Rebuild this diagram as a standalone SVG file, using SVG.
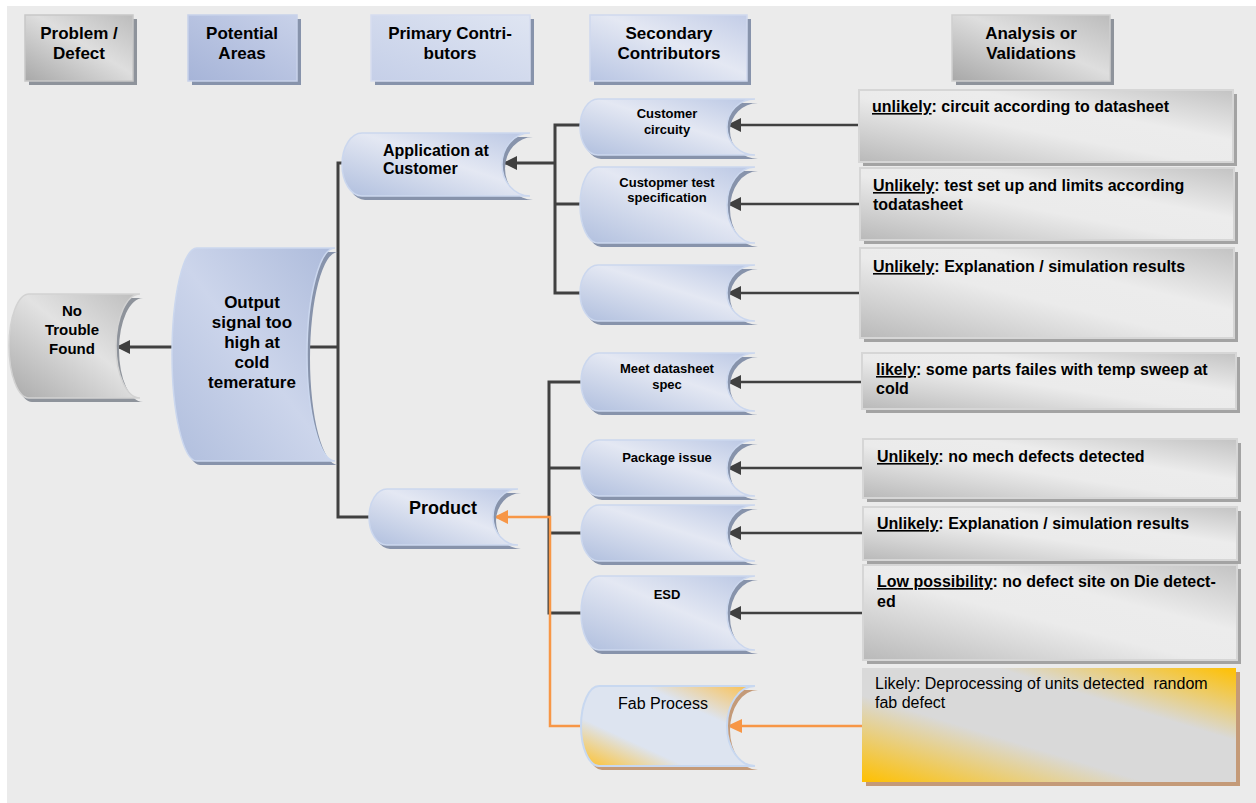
<svg xmlns="http://www.w3.org/2000/svg" width="1256" height="803" viewBox="0 0 1256 803">
<defs>
<linearGradient id="gBlue" x1="0" y1="1" x2="1" y2="0"><stop offset="0" stop-color="#b0bfde"/><stop offset="0.55" stop-color="#e4e8f3"/><stop offset="1" stop-color="#bac7e4"/></linearGradient>
<linearGradient id="gBlueTall" x1="0" y1="1" x2="1" y2="0"><stop offset="0" stop-color="#b0bedd"/><stop offset="0.5" stop-color="#ccd5eb"/><stop offset="1" stop-color="#adbbdb"/></linearGradient>
<linearGradient id="gGrayNode" x1="0" y1="1" x2="1" y2="0"><stop offset="0" stop-color="#a9a9a9"/><stop offset="0.55" stop-color="#e2e2e2"/><stop offset="1" stop-color="#bdbdbd"/></linearGradient>
<linearGradient id="gFab" x1="0" y1="1" x2="1" y2="0"><stop offset="0" stop-color="#ffc12a"/><stop offset="0.3" stop-color="#dde4f0"/><stop offset="0.68" stop-color="#dde4f0"/><stop offset="1" stop-color="#fcbf4a"/></linearGradient>
<linearGradient id="gBox" x1="0" y1="1" x2="1" y2="0"><stop offset="0" stop-color="#b9b9b9"/><stop offset="0.45" stop-color="#ebebeb"/><stop offset="0.65" stop-color="#ececec"/><stop offset="1" stop-color="#c3c3c3"/></linearGradient>
<linearGradient id="gBoxOr" x1="0" y1="1" x2="1" y2="0"><stop offset="0" stop-color="#ffc000"/><stop offset="0.38" stop-color="#d9d9d9"/><stop offset="0.68" stop-color="#d9d9d9"/><stop offset="1" stop-color="#ffc000"/></linearGradient>
<linearGradient id="gHGray" x1="0" y1="1" x2="1" y2="0"><stop offset="0" stop-color="#a8a8a8"/><stop offset="0.55" stop-color="#dedede"/><stop offset="1" stop-color="#bcbcbc"/></linearGradient>
<linearGradient id="gHBlue1" x1="0" y1="1" x2="1" y2="0"><stop offset="0" stop-color="#a6b4d8"/><stop offset="1" stop-color="#c8d1e9"/></linearGradient>
<linearGradient id="gHBlue2" x1="0" y1="1" x2="1" y2="0"><stop offset="0" stop-color="#c5cfe8"/><stop offset="1" stop-color="#dfe5f2"/></linearGradient>
<linearGradient id="gHBlue3" x1="0" y1="1" x2="1" y2="0"><stop offset="0" stop-color="#b8c5e3"/><stop offset="0.55" stop-color="#e4e8f3"/><stop offset="1" stop-color="#c3cde7"/></linearGradient>
<marker id="ah" viewBox="0 0 10 10" refX="10" refY="5" markerWidth="15" markerHeight="14" markerUnits="userSpaceOnUse" orient="auto"><path d="M0,0 L10,5 L0,10 z" fill="#404040"/></marker>
<marker id="aho" viewBox="0 0 10 10" refX="10" refY="5" markerWidth="15" markerHeight="14" markerUnits="userSpaceOnUse" orient="auto"><path d="M0,0 L10,5 L0,10 z" fill="#f79646"/></marker>
</defs>
<style>
text{font-family:"Liberation Sans",Arial,sans-serif;fill:#000;}
.b{font-weight:bold;}
.h{font-size:17px;font-weight:bold;text-anchor:middle;}
.s{font-size:13px;font-weight:bold;text-anchor:middle;}
.a{font-size:16px;font-weight:bold;}
.u{text-decoration:underline;}
.face{stroke:#cbd7ee;stroke-width:1.5;}
.sh{fill:#8793ab;}
.shg{fill:#8e939b;}
.shb{fill:#c49a78;}
.ln{fill:none;stroke:#404040;stroke-width:3;}
.lo{fill:none;stroke:#f79646;stroke-width:2.5;}
.ra{fill:none;stroke:#404040;stroke-width:2.5;marker-end:url(#ah);}
.box{fill:url(#gBox);stroke:#d6d6d6;stroke-width:2;}
.bsh{fill:#a3a3a3;}
</style>
<rect x="0" y="0" width="1256" height="803" fill="#ffffff"/>
<rect x="7" y="6" width="1249" height="797" fill="#ebebeb"/>

<g id="headers">
<g id="h-problem"><rect x="29" y="19" width="108" height="66" class="shg"/><rect x="25" y="15" width="108" height="66" fill="url(#gHGray)" stroke="#c8c8c8" stroke-width="1.5"/><text class="h" x="79" y="39">Problem /</text><text class="h" x="79" y="59">Defect</text></g>
<g id="h-potential"><rect x="192" y="19" width="109" height="66" class="sh"/><rect x="188" y="15" width="109" height="66" fill="url(#gHBlue1)" stroke="#c8d2ea" stroke-width="1.5"/><text class="h" x="242" y="39">Potential</text><text class="h" x="242" y="59">Areas</text></g>
<g id="h-primary"><rect x="375" y="19" width="159" height="66" class="sh"/><rect x="371" y="15" width="159" height="66" fill="url(#gHBlue2)" stroke="#d6ddef" stroke-width="1.5"/><text class="h" x="450" y="39">Primary Contri-</text><text class="h" x="450" y="59">butors</text></g>
<g id="h-secondary"><rect x="594" y="19" width="157" height="66" class="sh"/><rect x="590" y="15" width="157" height="66" fill="url(#gHBlue3)" stroke="#d0d9ee" stroke-width="1.5"/><text class="h" x="669" y="39">Secondary</text><text class="h" x="669" y="59">Contributors</text></g>
<g id="h-analysis"><rect x="956" y="19" width="158" height="66" class="shg"/><rect x="952" y="15" width="158" height="66" fill="url(#gHGray)" stroke="#cfcfcf" stroke-width="1.5"/><text class="h" x="1031" y="39">Analysis or</text><text class="h" x="1031" y="59">Validations</text></g>
</g>

<g id="connectors">
<path class="ln" d="M172,347 H116" marker-end="url(#ah)"/>
<path class="ln" d="M338,347 H285" marker-end="url(#ah)"/>
<path class="ln" d="M372,163 H338 V517 H372"/>
<path class="ln" d="M555,163 H503" marker-end="url(#ah)"/>
<path class="ln" d="M582,125 H555 V293 H582"/>
<path class="ln" d="M555,204 H582"/>
<path class="ln" d="M581,382 H549 V613 H581"/>
<path class="ln" d="M549,468 H581"/>
<path class="ln" d="M549,533 H581"/>
<path class="lo" d="M581,726 H550 V517 H494" marker-end="url(#aho)"/>
<path class="ra" d="M860,125 H727"/>
<path class="ra" d="M861,204 H727"/>
<path class="ra" d="M862,293 H727"/>
<path class="ra" d="M863,382 H727"/>
<path class="ra" d="M864,468 H727"/>
<path class="ra" d="M864,533 H727"/>
<path class="ra" d="M864,613 H727"/>
<path class="lo" d="M864,726 H740"/>
<path d="M742,719 L727,726 L742,733 z" fill="#f79646"/>
</g>

<g id="n-ntf">
<path class="shg" transform="translate(3,4)" d="M29,294 H140 A24,52 0 0 0 140,398 H29 A20,52 0 0 1 29,294 Z"/>
<path fill="url(#gGrayNode)" stroke="#d2d2d2" stroke-width="1.5" d="M29,294 H140 A24,52 0 0 0 140,398 H29 A20,52 0 0 1 29,294 Z"/>
<text class="b" style="font-size:15px" text-anchor="middle" x="72" y="316">No</text>
<text class="b" style="font-size:15px" text-anchor="middle" x="72" y="335">Trouble</text>
<text class="b" style="font-size:15px" text-anchor="middle" x="72" y="354">Found</text>
</g>

<g id="n-output">
<path class="sh" transform="translate(3,4)" d="M197,248 H335 A28,106.5 0 0 0 335,461 H197 A25,106.5 0 0 1 197,248 Z"/>
<path class="face" fill="url(#gBlueTall)" d="M197,248 H335 A28,106.5 0 0 0 335,461 H197 A25,106.5 0 0 1 197,248 Z"/>
<text class="h" x="252" y="308">Output</text>
<text class="h" x="252" y="328">signal too</text>
<text class="h" x="252" y="348">high at</text>
<text class="h" x="252" y="368">cold</text>
<text class="h" x="252" y="388">temerature</text>
</g>

<g id="n-application">
<path class="sh" transform="translate(3,4)" d="M362,133 H530 A28,31.5 0 0 0 530,196 H362 A20,31.5 0 0 1 362,133 Z"/>
<path class="face" fill="url(#gBlue)" d="M362,133 H530 A28,31.5 0 0 0 530,196 H362 A20,31.5 0 0 1 362,133 Z"/>
<text class="a" x="383" y="156">Application at</text>
<text class="a" x="383" y="174">Customer</text>
</g>

<g id="n-product">
<path class="sh" transform="translate(3,4)" d="M387,489 H518 A25,28 0 0 0 518,545 H387 A18,28 0 0 1 387,489 Z"/>
<path class="face" fill="url(#gBlue)" d="M387,489 H518 A25,28 0 0 0 518,545 H387 A18,28 0 0 1 387,489 Z"/>
<text class="b" style="font-size:18px" text-anchor="middle" x="443" y="514">Product</text>
</g>

<g id="n-circuity">
<path class="sh" transform="translate(3,4)" d="M598,99 H755 A28,28 0 0 0 755,155 H598 A18,28 0 0 1 598,99 Z"/>
<path class="face" fill="url(#gBlue)" d="M598,99 H755 A28,28 0 0 0 755,155 H598 A18,28 0 0 1 598,99 Z"/>
<text class="s" x="667" y="118">Customer</text>
<text class="s" x="667" y="134">circuity</text>
</g>

<g id="n-testspec">
<path class="sh" transform="translate(3,4)" d="M598,167 H755 A28,38 0 0 0 755,243 H598 A18,38 0 0 1 598,167 Z"/>
<path class="face" fill="url(#gBlue)" d="M598,167 H755 A28,38 0 0 0 755,243 H598 A18,38 0 0 1 598,167 Z"/>
<text class="s" x="667" y="187">Custopmer test</text>
<text class="s" x="667" y="202">specification</text>
</g>

<g id="n-empty1">
<path class="sh" transform="translate(3,4)" d="M598,265 H755 A28,28 0 0 0 755,321 H598 A18,28 0 0 1 598,265 Z"/>
<path class="face" fill="url(#gBlue)" d="M598,265 H755 A28,28 0 0 0 755,321 H598 A18,28 0 0 1 598,265 Z"/>
</g>

<g id="n-meet">
<path class="sh" transform="translate(3,4)" d="M599,353 H755 A28,29 0 0 0 755,411 H599 A18,29 0 0 1 599,353 Z"/>
<path class="face" fill="url(#gBlue)" d="M599,353 H755 A28,29 0 0 0 755,411 H599 A18,29 0 0 1 599,353 Z"/>
<text class="s" x="667" y="373">Meet datasheet</text>
<text class="s" x="667" y="389">spec</text>
</g>

<g id="n-package">
<path class="sh" transform="translate(3,4)" d="M599,440 H755 A28,28 0 0 0 755,496 H599 A18,28 0 0 1 599,440 Z"/>
<path class="face" fill="url(#gBlue)" d="M599,440 H755 A28,28 0 0 0 755,496 H599 A18,28 0 0 1 599,440 Z"/>
<text class="s" x="667" y="462">Package issue</text>
</g>

<g id="n-empty2">
<path class="sh" transform="translate(3,4)" d="M599,505 H755 A28,28 0 0 0 755,561 H599 A18,28 0 0 1 599,505 Z"/>
<path class="face" fill="url(#gBlue)" d="M599,505 H755 A28,28 0 0 0 755,561 H599 A18,28 0 0 1 599,505 Z"/>
</g>

<g id="n-esd">
<path class="sh" transform="translate(3,4)" d="M599,576 H755 A28,37 0 0 0 755,650 H599 A18,37 0 0 1 599,576 Z"/>
<path class="face" fill="url(#gBlue)" d="M599,576 H755 A28,37 0 0 0 755,650 H599 A18,37 0 0 1 599,576 Z"/>
<text class="s" x="667" y="599">ESD</text>
</g>

<g id="n-fab">
<path class="shb" transform="translate(3,4)" d="M599,686 H755 A28,40 0 0 0 755,766 H599 A18,40 0 0 1 599,686 Z"/>
<path fill="url(#gFab)" stroke="#c8d8f0" stroke-width="2" d="M599,686 H755 A28,40 0 0 0 755,766 H599 A18,40 0 0 1 599,686 Z"/>
<text style="font-size:16px" text-anchor="middle" x="663" y="709">Fab Process</text>
</g>

<g id="v-1">
<rect x="863" y="94" width="374" height="72" class="bsh"/>
<rect x="859" y="90" width="374" height="72" class="box"/>
<text class="a" x="872" y="112"><tspan class="u">unlikely</tspan>: circuit according to datasheet</text>
</g>
<g id="v-2">
<rect x="864" y="172" width="374" height="72" class="bsh"/>
<rect x="860" y="168" width="374" height="72" class="box"/>
<text class="a" x="873" y="191"><tspan class="u">Unlikely</tspan>: test set up and limits according</text>
<text class="a" x="873" y="210">todatasheet</text>
</g>
<g id="v-3">
<rect x="864" y="252" width="374" height="90" class="bsh"/>
<rect x="860" y="248" width="374" height="90" class="box"/>
<text class="a" x="873" y="272"><tspan class="u">Unlikely</tspan>: Explanation / simulation results</text>
</g>
<g id="v-4">
<rect x="866" y="357" width="374" height="56" class="bsh"/>
<rect x="862" y="353" width="374" height="56" class="box"/>
<text class="a" x="876" y="375"><tspan class="u">likely</tspan>: some parts failes with temp sweep at</text>
<text class="a" x="876" y="394">cold</text>
</g>
<g id="v-5">
<rect x="867" y="443" width="374" height="59" class="bsh"/>
<rect x="863" y="439" width="374" height="59" class="box"/>
<text class="a" x="877" y="462"><tspan class="u">Unlikely</tspan>: no mech defects detected</text>
</g>
<g id="v-6">
<rect x="867" y="511" width="374" height="53" class="bsh"/>
<rect x="863" y="507" width="374" height="53" class="box"/>
<text class="a" x="877" y="529"><tspan class="u">Unlikely</tspan>: Explanation / simulation results</text>
</g>
<g id="v-7">
<rect x="867" y="569" width="374" height="95" class="bsh"/>
<rect x="863" y="565" width="374" height="95" class="box"/>
<text class="a" x="877" y="587"><tspan class="u">Low possibility</tspan>: no defect site on Die detect-</text>
<text class="a" x="877" y="607">ed</text>
</g>
<g id="v-8">
<rect x="866" y="672" width="374" height="114" class="shb"/>
<rect x="862" y="668" width="374" height="114" fill="url(#gBoxOr)"/>
<text style="font-size:16px" x="875" y="689" xml:space="preserve">Likely: Deprocessing of units detected  random</text>
<text style="font-size:16px" x="875" y="708">fab defect</text>
</g>
</svg>
